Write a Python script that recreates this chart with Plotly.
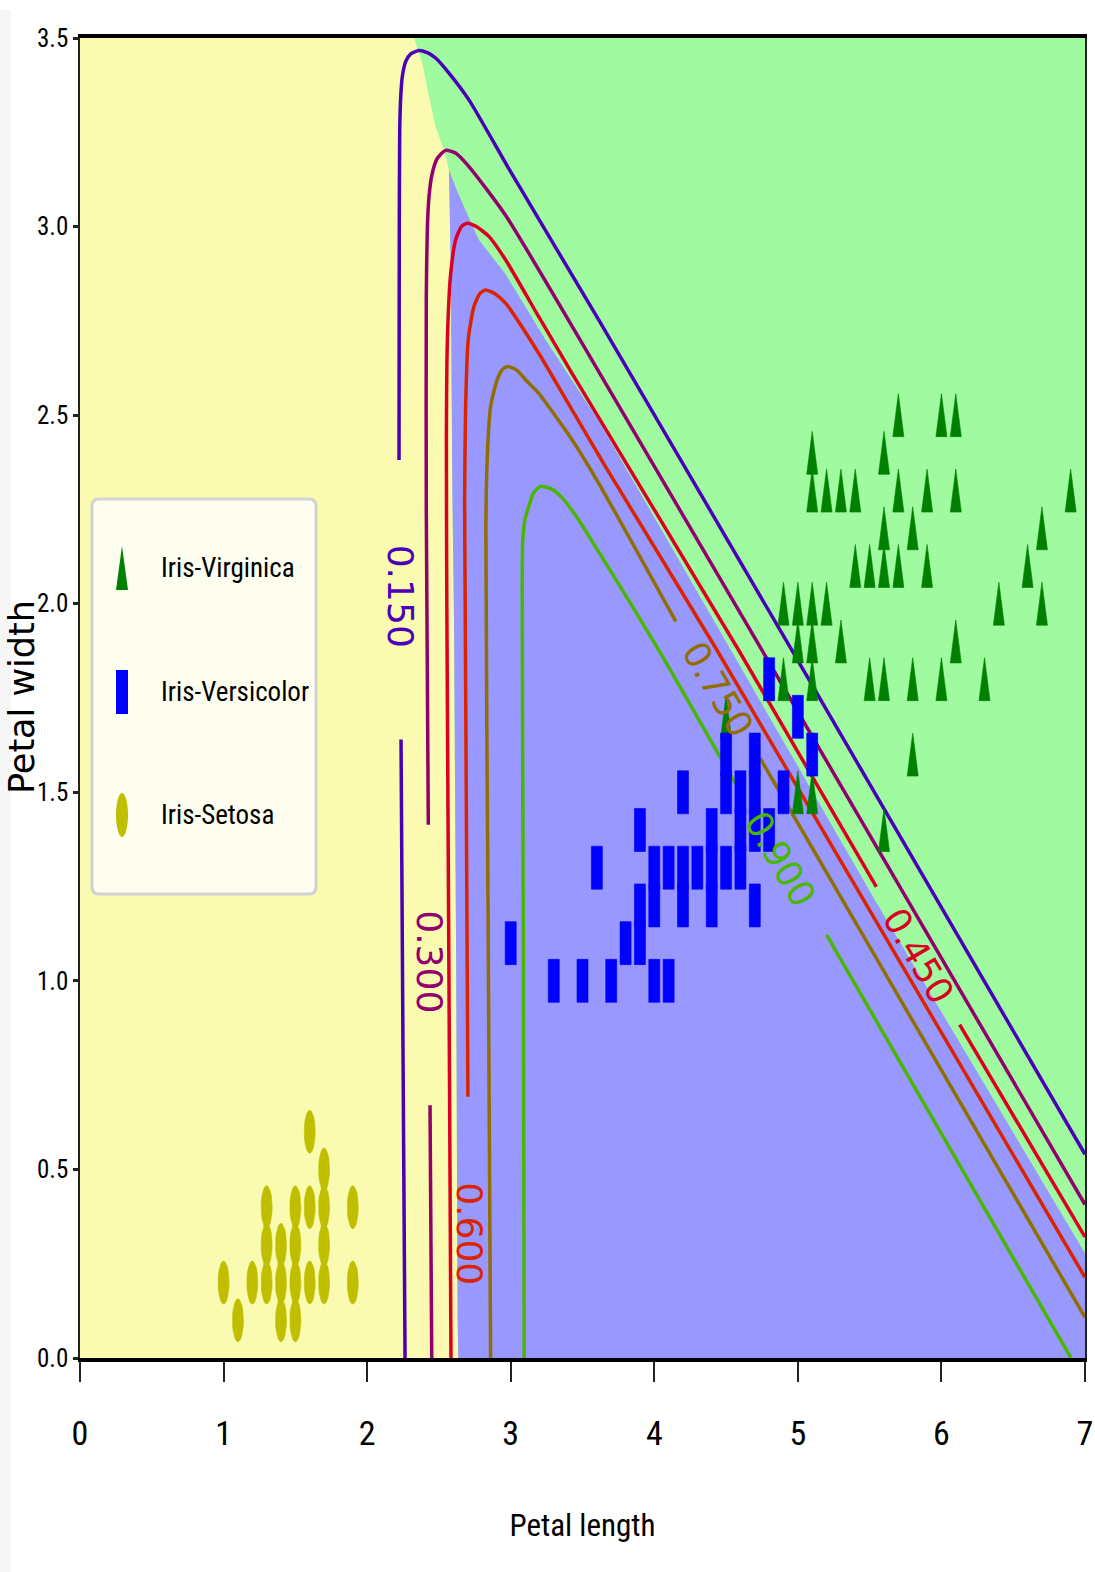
import numpy as np
import plotly.graph_objects as go

# ---------------- data ----------------
setosa_len = [1.0, 1.1, 1.2, 1.3, 1.3, 1.3, 1.4, 1.4, 1.4, 1.5, 1.5, 1.5, 1.5,
              1.6, 1.6, 1.6, 1.7, 1.7, 1.7, 1.7, 1.9, 1.9]
setosa_wid = [0.2, 0.1, 0.2, 0.2, 0.3, 0.4, 0.1, 0.2, 0.3, 0.1, 0.2, 0.3, 0.4,
              0.2, 0.4, 0.6, 0.2, 0.3, 0.4, 0.5, 0.2, 0.4]

versicolor_len = [3.0, 3.3, 3.5, 3.6, 3.7, 3.8, 3.9, 3.9, 3.9, 4.0, 4.0, 4.0,
                  4.1, 4.1, 4.2, 4.2, 4.2, 4.3, 4.4, 4.4, 4.4, 4.5, 4.5, 4.5,
                  4.6, 4.6, 4.6, 4.7, 4.7, 4.7, 4.7, 4.8, 4.8, 4.9, 5.0, 5.1]
versicolor_wid = [1.1, 1.0, 1.0, 1.3, 1.0, 1.1, 1.1, 1.2, 1.4, 1.0, 1.2, 1.3,
                  1.0, 1.3, 1.2, 1.3, 1.5, 1.3, 1.2, 1.3, 1.4, 1.3, 1.5, 1.6,
                  1.3, 1.4, 1.5, 1.2, 1.4, 1.5, 1.6, 1.4, 1.8, 1.5, 1.7, 1.6]

virginica_len = [5.7, 6.0, 6.1,
                 5.1, 5.6,
                 5.1, 5.2, 5.3, 5.4, 5.7, 5.9, 6.1, 6.9,
                 5.6, 5.8, 6.7,
                 5.4, 5.5, 5.6, 5.7, 5.9, 6.6,
                 4.9, 5.0, 5.1, 5.2, 6.4, 6.7,
                 5.0, 5.1, 5.3, 6.1,
                 4.8, 4.9, 5.1, 5.5, 5.6, 5.8, 6.0, 6.3,
                 4.5, 5.8, 5.0, 5.1, 5.6]
virginica_wid = [2.5, 2.5, 2.5,
                 2.4, 2.4,
                 2.3, 2.3, 2.3, 2.3, 2.3, 2.3, 2.3, 2.3,
                 2.2, 2.2, 2.2,
                 2.1, 2.1, 2.1, 2.1, 2.1, 2.1,
                 2.0, 2.0, 2.0, 2.0, 2.0, 2.0,
                 1.9, 1.9, 1.9, 1.9,
                 1.8, 1.8, 1.8, 1.8, 1.8, 1.8, 1.8, 1.8,
                 1.7, 1.6, 1.5, 1.5, 1.4]

# decision regions (boundaries)
setosa_region_x = [0.0, 0.0, 2.327, 2.384, 2.431, 2.477, 2.535, 2.570, 2.582,
                   2.589, 2.594, 2.605, 2.620, 2.630, 2.635]
setosa_region_y = [0.0, 3.5, 3.5, 3.433, 3.345, 3.265, 3.203, 3.150, 2.90,
                   2.50, 2.276, 1.96, 1.05, 0.11, 0.0]
versicolor_region_x = [2.570, 2.620, 2.674, 2.778, 2.964, 3.242, 3.612, 5.559,
                       7.0, 7.0, 2.635, 2.630, 2.620, 2.605, 2.594, 2.589, 2.582]
versicolor_region_y = [3.150, 3.100, 3.053, 2.965, 2.874, 2.700, 2.485, 1.200,
                       0.278, 0.0, 0.0, 0.11, 1.05, 1.96, 2.276, 2.50, 2.90]

# probability contour lines (Iris-Versicolor), each a list of segments
contour_levels = ["0.150", "0.300", "0.450", "0.600", "0.750", "0.900"]
contour_x = {
    "0.150": [[2.264, 2.250, 2.236],
              [2.222, 2.224, 2.227, 2.234, 2.245, 2.269, 2.304, 2.361, 2.419,
               2.477, 2.570, 2.709, 3.000, 3.612, 4.956, 7.0]],
    "0.300": [[2.450, 2.438],
              [2.426, 2.412, 2.412, 2.419, 2.431, 2.454, 2.489, 2.547, 2.616,
               2.709, 2.964, 3.612, 4.748, 7.0]],
    "0.450": [[2.584, 2.570, 2.555, 2.552, 2.559, 2.582, 2.617, 2.657, 2.697,
               2.760, 2.848, 2.964, 3.195, 3.427, 4.586, 5.547],
              [6.127, 7.0]],
    "0.600": [[2.702, 2.683, 2.679, 2.686, 2.704, 2.744, 2.785, 2.825, 2.890,
               2.964, 3.195, 3.427, 3.659, 4.435, 7.0]],
    "0.750": [[2.860, 2.842, 2.827, 2.837, 2.860, 2.906, 2.940, 2.975, 3.040,
               3.103, 3.195, 3.427, 3.612, 4.150],
              [4.736, 7.0]],
    "0.900": [[3.094, 3.087, 3.080, 3.084, 3.100, 3.126, 3.160, 3.207, 3.280,
               3.360, 3.450, 3.543, 4.029, 4.562],
              [5.200, 6.903]],
}
contour_y = {
    "0.150": [[0.0, 0.8, 1.64],
              [2.381, 3.0, 3.256, 3.345, 3.398, 3.438, 3.458, 3.467, 3.461,
               3.447, 3.407, 3.336, 3.145, 2.753, 1.878, 0.54]],
    "0.300": [[0.0, 0.670],
              [1.414, 2.249, 2.814, 2.991, 3.080, 3.142, 3.181, 3.202, 3.195,
               3.159, 3.030, 2.616, 1.878, 0.407]],
    "0.450": [[0.0, 1.0, 2.0, 2.435, 2.700, 2.876, 2.965, 3.000, 3.009,
               3.000, 2.974, 2.912, 2.761, 2.611, 1.878, 1.249],
              [0.884, 0.321]],
    "0.600": [[0.693, 2.0, 2.276, 2.523, 2.700, 2.788, 2.822, 2.832, 2.822,
               2.797, 2.664, 2.514, 2.364, 1.878, 0.214]],
    "0.750": [[0.0, 1.2, 2.2, 2.39, 2.523, 2.594, 2.620, 2.629, 2.620,
               2.594, 2.558, 2.435, 2.320, 1.953],
              [1.591, 0.108]],
    "0.900": [[0.0, 1.2, 2.05, 2.169, 2.225, 2.258, 2.295, 2.311, 2.305,
               2.280, 2.235, 2.180, 1.878, 1.524],
              [1.122, 0.0]],
}

x_ticks = [0, 1, 2, 3, 4, 5, 6, 7]
x_tick_labels = ["0", "1", "2", "3", "4", "5", "6", "7"]
y_ticks = [0.0, 0.5, 1.0, 1.5, 2.0, 2.5, 3.0, 3.5]
y_tick_labels = ["0.0", "0.5", "1.0", "1.5", "2.0", "2.5", "3.0", "3.5"]

class_names = ["Iris-Virginica", "Iris-Versicolor", "Iris-Setosa"]
x_title = "Petal length"
y_title = "Petal width"

# ---------------- layout / style ----------------
W, H = 1095, 1572
ML, MR, MT, MB = 80, 10, 38, 214
PW, PH = W - ML - MR, H - MT - MB
PXX, PXY = PW / 7.0, PH / 3.5          # pixels per data unit
HW, HH = 5.5 / PXX, 21.5 / PXY         # marker half-size in data units

NARROW = "Roboto Condensed, Liberation Sans Narrow, Roboto, sans-serif"
WIDE = "DejaVu Sans, Verdana, sans-serif"

level_colors = {"0.150": "#4900b6", "0.300": "#92006d", "0.450": "#da0024",
                "0.600": "#da2400", "0.750": "#926d00", "0.900": "#49b600"}
label_pos = {"0.150": (2.232, 2.02, 90), "0.300": (2.436, 1.05, 90),
             "0.600": (2.712, 0.33, 90), "0.450": (5.837, 1.067, 59.6),
             "0.750": (4.443, 1.772, 59.6), "0.900": (4.881, 1.323, 59.6)}

ELL_T = np.linspace(0, 2 * np.pi, 25)


def marker_polys(xs, ys, kind):
    X, Y = [], []
    for x, y in zip(xs, ys):
        if kind == "tri":
            X += [x - HW, x + HW, x, x - HW, None]
            Y += [y - HH, y - HH, y + HH, y - HH, None]
        elif kind == "sq":
            X += [x - HW, x + HW, x + HW, x - HW, x - HW, None]
            Y += [y - HH, y - HH, y + HH, y + HH, y - HH, None]
        else:
            X += list(x + HW * np.cos(ELL_T)) + [None]
            Y += list(y + HH * np.sin(ELL_T)) + [None]
    return X, Y


fig = go.Figure()

# decision regions
fig.add_trace(go.Scatter(x=setosa_region_x, y=setosa_region_y, fill="toself",
                         fillcolor="#fafab0", line=dict(width=0), mode="lines",
                         hoverinfo="skip", showlegend=False))
fig.add_trace(go.Scatter(x=versicolor_region_x, y=versicolor_region_y, fill="toself",
                         fillcolor="#9898ff", line=dict(width=0), mode="lines",
                         hoverinfo="skip", showlegend=False))

# contour lines
for lev in contour_levels:
    X, Y = [], []
    for sx, sy in zip(contour_x[lev], contour_y[lev]):
        X += sx + [None]
        Y += sy + [None]
    fig.add_trace(go.Scatter(x=X, y=Y, mode="lines",
                             line=dict(color=level_colors[lev], width=3.5,
                                       shape="spline", smoothing=0.6),
                             connectgaps=False, hoverinfo="skip", showlegend=False))

# data points
for xs, ys, kind, col, name in [
        (virginica_len, virginica_wid, "tri", "#008000", class_names[0]),
        (versicolor_len, versicolor_wid, "sq", "#0000ff", class_names[1]),
        (setosa_len, setosa_wid, "ell", "#bfbf00", class_names[2])]:
    X, Y = marker_polys(xs, ys, kind)
    fig.add_trace(go.Scatter(x=X, y=Y, mode="lines", fill="toself", fillcolor=col,
                             line=dict(color=col, width=0.6), name=name,
                             hoverinfo="skip", showlegend=False))

# contour labels
for lev in contour_levels:
    lx, ly, ang = label_pos[lev]
    fig.add_annotation(x=lx, y=ly, text=lev, showarrow=False, textangle=ang,
                       font=dict(family=WIDE, size=36, color=level_colors[lev]),
                       xanchor="center", yanchor="middle")


# ---------------- hand-drawn legend (paper coordinates) ----------------
def px2p(px, py):
    return (px - ML) / PW, (H - MB - py) / PH


def rounded_rect(x0, y0, x1, y1, r):
    def P(x, y):
        u, v = px2p(x, y)
        return f"{u:.5f},{v:.5f}"
    return (f"M{P(x0 + r, y0)} L{P(x1 - r, y0)} Q{P(x1, y0)} {P(x1, y0 + r)} "
            f"L{P(x1, y1 - r)} Q{P(x1, y1)} {P(x1 - r, y1)} L{P(x0 + r, y1)} "
            f"Q{P(x0, y1)} {P(x0, y1 - r)} L{P(x0, y0 + r)} Q{P(x0, y0)} {P(x0 + r, y0)} Z")


u0, v0 = px2p(0, 10)
u1, v1 = px2p(11, H)
shapes = [dict(type="rect", xref="paper", yref="paper", x0=u0, x1=u1, y0=v1, y1=v0,
               fillcolor="#f6f6f6", line=dict(width=0), layer="below"),
          dict(type="path", xref="paper", yref="paper",
               path=rounded_rect(92, 499, 316, 894, 7),
               fillcolor="#fefef0", line=dict(color="#d2d2d2", width=3),
               layer="above")]

leg_x, leg_rows = 122, [568, 692, 815]
leg_cols = ["#008000", "#0000ff", "#bfbf00"]
lw, lh = 6, 22
p = [px2p(leg_x - lw, leg_rows[0] + lh), px2p(leg_x + lw, leg_rows[0] + lh),
     px2p(leg_x, leg_rows[0] - lh)]
shapes.append(dict(type="path", xref="paper", yref="paper", layer="above",
                   path="M" + " L".join(f"{u:.5f},{v:.5f}" for u, v in p) + " Z",
                   fillcolor=leg_cols[0], line=dict(width=0)))
p = [px2p(leg_x - lw, leg_rows[1] + lh), px2p(leg_x + lw, leg_rows[1] + lh),
     px2p(leg_x + lw, leg_rows[1] - lh), px2p(leg_x - lw, leg_rows[1] - lh)]
shapes.append(dict(type="path", xref="paper", yref="paper", layer="above",
                   path="M" + " L".join(f"{u:.5f},{v:.5f}" for u, v in p) + " Z",
                   fillcolor=leg_cols[1], line=dict(width=0)))
p = [px2p(leg_x + lw * np.cos(t), leg_rows[2] + lh * np.sin(t)) for t in ELL_T[:-1]]
shapes.append(dict(type="path", xref="paper", yref="paper", layer="above",
                   path="M" + " L".join(f"{u:.5f},{v:.5f}" for u, v in p) + " Z",
                   fillcolor=leg_cols[2], line=dict(width=0)))

for name, row in zip(class_names, leg_rows):
    u, v = px2p(159, row)
    fig.add_annotation(x=u, y=v, xref="paper", yref="paper", text=name,
                       showarrow=False, xanchor="left", yanchor="middle",
                       font=dict(family=NARROW, size=27, color="black"))

# y-axis title placed explicitly in the left margin
u, v = px2p(22, 697)
fig.add_annotation(x=u, y=v, xref="paper", yref="paper", text=y_title,
                   showarrow=False, textangle=-90, xanchor="center", yanchor="middle",
                   font=dict(family=WIDE, size=35, color="black"))

fig.update_layout(
    width=W, height=H,
    margin=dict(l=ML, r=MR, t=MT, b=MB, pad=0, autoexpand=False),
    paper_bgcolor="white", plot_bgcolor="#a0faa0",
    shapes=shapes, showlegend=False,
    xaxis=dict(range=[0, 7], tickvals=x_ticks, ticktext=x_tick_labels,
               automargin=False, ticklabeloverflow="allow",
               showgrid=False, zeroline=False, showline=True, mirror=True,
               linecolor="black", linewidth=4, ticks="outside", ticklen=20,
               tickwidth=1.5, tickcolor="#222", ticklabelstandoff=22,
               tickfont=dict(family=NARROW, size=34, color="black"),
               title=dict(text=x_title, standoff=64,
                          font=dict(family=NARROW, size=31, color="black"))),
    yaxis=dict(range=[0, 3.5], tickvals=y_ticks, ticktext=y_tick_labels,
               automargin=False, ticklabeloverflow="allow",
               showgrid=False, zeroline=False, showline=True, mirror=True,
               linecolor="#222", linewidth=1.5, ticks="outside", ticklen=5,
               tickwidth=3, tickcolor="#222", ticklabelstandoff=0,
               tickfont=dict(family=NARROW, size=25, color="black")),
)

fig.write_html("out.html", config={"displayModeBar": False},
               post_script="document.body.style.margin='0';")
